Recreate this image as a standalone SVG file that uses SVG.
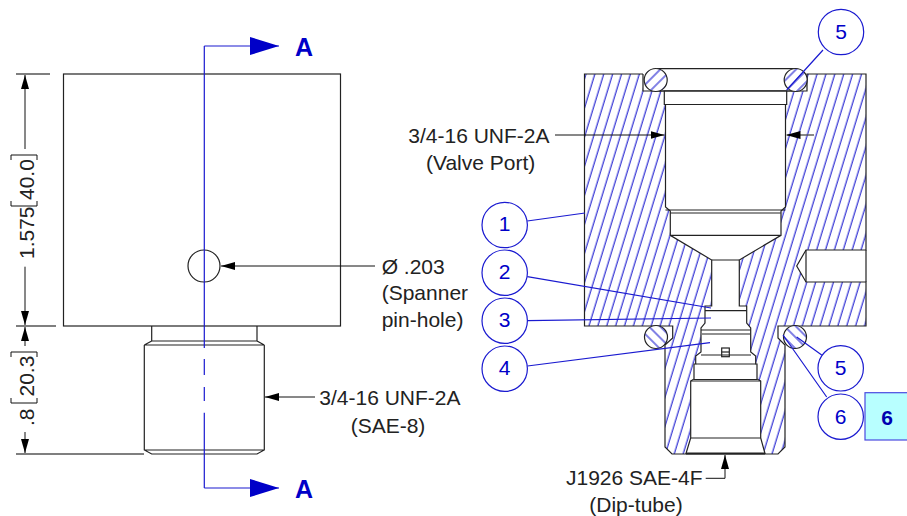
<svg xmlns="http://www.w3.org/2000/svg" width="907" height="516" viewBox="0 0 907 516">
<style>
.o{fill:none;stroke:#222;stroke-width:1.2}
.w{fill:#fff;stroke:#222;stroke-width:1.2}
.d{fill:none;stroke:#111;stroke-width:1}
.e{fill:none;stroke:#555;stroke-width:1.4}
.b{fill:none;stroke:#1a1ad0;stroke-width:1.2}
.bal{fill:#fff;stroke:#1a1ad0;stroke-width:1.2}
.t{font-family:"Liberation Sans",Arial,sans-serif;font-size:21px;fill:#222}
.n{font-family:"Liberation Sans",Arial,sans-serif;font-size:21px;fill:#0000c8;text-anchor:middle}
.a{font-family:"Liberation Sans",Arial,sans-serif;font-size:25px;font-weight:bold;fill:#0000c8}
</style>
<defs>
<pattern id="h" patternUnits="userSpaceOnUse" width="8.5" height="10" patternTransform="rotate(17)"><line x1="4" y1="0" x2="4" y2="10" stroke="#1a1ad0" stroke-width="1.1"/></pattern>
<pattern id="hr" patternUnits="userSpaceOnUse" width="8" height="8" patternTransform="rotate(45)"><rect width="8" height="8" fill="#fff"/><line x1="4" y1="0" x2="4" y2="8" stroke="#1a1ad0" stroke-width="1.1"/></pattern>
<pattern id="hl" patternUnits="userSpaceOnUse" width="8" height="8" patternTransform="rotate(-45)"><rect width="8" height="8" fill="#fff"/><line x1="4" y1="0" x2="4" y2="8" stroke="#1a1ad0" stroke-width="1.1"/></pattern>
<marker id="ar" markerUnits="userSpaceOnUse" markerWidth="14" markerHeight="8" refX="14" refY="4" orient="auto"><path d="M0 0L14 4L0 8Z" fill="#000"/></marker>
<marker id="ab" markerUnits="userSpaceOnUse" markerWidth="29" markerHeight="18" refX="29" refY="9" orient="auto"><path d="M0 0L29 9L0 18Z" fill="#0000c8"/></marker>
</defs>

<g id="side-view">
<rect class="o" x="63.5" y="74" width="277" height="252"/>
<path class="o" d="M151.7 326V341H257V326M144.3 345L151.7 341M257 341L264.3 345M144.3 345H264.3M144.3 345V450L151.7 454H257L264.3 450V345M144.3 450H264.3"/>
<circle class="o" cx="204" cy="266" r="16"/>
</g>

<g id="section-body">
<path d="M584.5 74H643V91H807V74H866V250H806L796.7 266L806 282H866V326H778V338L785 345V447L778 454H672L665 447V345L672.7 338V326H584.5Z" fill="url(#h)"/>
<path class="o" d="M643 74H584.5V326H672.7V338L665 345V447L672 454H778L785 447V345L778 338V326H866V282H806L796.7 266L806 250H866V74H807V91H643V74"/>
<line class="o" x1="866" y1="250" x2="866" y2="282"/>
<line class="o" x1="806" y1="250" x2="806" y2="282"/>
<path class="w" d="M664.3 91H786.7V104.5H785.5V207L781 211V235.3L739.3 260V306H746.7V323L750.7 328V352L755.7 356V364H757V379L760.7 381V438L765 453.5H686L690.7 438V381L694 379V364H695.7V356L701 352V328L705 323V306H711.7V260L670.3 235.3V211L665.5 207V104.5H664.3Z"/>
<path class="o" d="M664.3 104.5H786.7M665.5 210H785.5M670.3 213H780.7M670.3 235.3H780.7M711.7 260H739.3M705 310.7H746.7M701 330H750.7M702 334H750M701 355H751M695.7 364H755.7M694 379.5H757M690.7 381H760.7M690.7 438H760.7"/>
<line x1="686" y1="453.5" x2="765" y2="453.5" stroke="#222" stroke-width="2"/>
<rect class="o" x="721.7" y="348" width="7.6" height="8.7"/>
<line class="o" x1="721.7" y1="352" x2="729.3" y2="352"/>
<line class="o" x1="657" y1="68.7" x2="795" y2="68.7"/>
<line class="o" x1="657" y1="91" x2="795" y2="91"/>
<circle cx="655.7" cy="80" r="11.5" fill="url(#hr)" stroke="#222" stroke-width="1.2"/>
<circle cx="795.7" cy="80" r="11.5" fill="url(#hr)" stroke="#222" stroke-width="1.2"/>
<circle cx="656" cy="337" r="11.5" fill="url(#hl)" stroke="#222" stroke-width="1.2"/>
<circle cx="795" cy="337" r="11.5" fill="url(#hl)" stroke="#222" stroke-width="1.2"/>
</g>

<g id="connectors">
<path class="b" d="M204.3 488V412.7M204.3 401V387M204.3 375V359M204.3 348V46"/>
<path class="b" d="M204.3 46H279" marker-end="url(#ab)"/>
<path class="b" d="M204.3 488H279" marker-end="url(#ab)"/>
<path class="e" d="M16 74H50M16 326H56M16 454H144"/>
<line class="d" x1="25" y1="149" x2="25" y2="75" marker-end="url(#ar)"/>
<line class="d" x1="25" y1="266.7" x2="25" y2="325" marker-end="url(#ar)"/>
<line class="d" x1="25" y1="346" x2="25" y2="327" marker-end="url(#ar)"/>
<line class="d" x1="25" y1="432" x2="25" y2="453" marker-end="url(#ar)"/>
<path class="d" d="M11 160V155H37V160M11 201V206H37V201M11 357V352H37V357M11 398V403H37V398"/>
<line class="d" x1="375" y1="266" x2="221" y2="266" marker-end="url(#ar)"/>
<line class="d" x1="315" y1="397" x2="265" y2="397" marker-end="url(#ar)"/>
<line class="d" x1="555" y1="135" x2="664.5" y2="135" marker-end="url(#ar)"/>
<line class="e" x1="814" y1="135" x2="800" y2="135"/>
<line class="d" x1="800" y1="135" x2="786.5" y2="135" marker-end="url(#ar)"/>
<path class="d" d="M705.7 478.3H725V455" marker-end="url(#ar)"/>
<path class="b" d="M527.3 221L585 213M527.3 276.7L711 308M527.5 320.7L711 318M527.5 366L710 342.7M786.7 90L823 50M796.7 337L821.7 355M783 335L826.7 397"/>
</g>

<g id="labels">
<text class="t" transform="translate(34 259) rotate(-90)">1.575</text>
<text class="t" transform="translate(34 200) rotate(-90)">40.0</text>
<text class="t" transform="translate(34 396.5) rotate(-90)">20.3</text>
<text class="t" transform="translate(34 426) rotate(-90)">.8</text>
<text class="t" x="381.7" y="274">Ø .203</text>
<text class="t" x="381.7" y="300">(Spanner</text>
<text class="t" x="381.7" y="326.5">pin-hole)</text>
<text class="t" x="319.3" y="405">3/4-16 UNF-2A</text>
<text class="t" x="350.7" y="432.7">(SAE-8)</text>
<text class="t" x="408.3" y="142.7">3/4-16 UNF-2A</text>
<text class="t" x="426" y="170">(Valve Port)</text>
<text class="t" x="566" y="485">J1926 SAE-4F</text>
<text class="t" x="589.3" y="511.7">(Dip-tube)</text>
<text class="a" x="295" y="56">A</text>
<text class="a" x="295" y="497.5">A</text>
</g>

<g id="balloon-1"><circle class="bal" cx="504.7" cy="225" r="22.7"/><text class="n" x="504.7" y="231">1</text></g>
<g id="balloon-2"><circle class="bal" cx="504.7" cy="272.7" r="22.7"/><text class="n" x="504.7" y="279.3">2</text></g>
<g id="balloon-3"><circle class="bal" cx="504.7" cy="320.7" r="22.7"/><text class="n" x="504.7" y="327.3">3</text></g>
<g id="balloon-4"><circle class="bal" cx="504.7" cy="368.7" r="22.7"/><text class="n" x="504.7" y="374.5">4</text></g>
<g id="balloon-5a"><circle class="bal" cx="841" cy="32" r="22.7"/><text class="n" x="841" y="39">5</text></g>
<g id="balloon-5b"><circle class="bal" cx="840.7" cy="368.3" r="22.7"/><text class="n" x="840.7" y="375">5</text></g>
<g id="balloon-6"><circle class="bal" cx="840.7" cy="416.7" r="22.7"/><text class="n" x="840.7" y="423.5">6</text></g>
<g id="tag-6"><rect x="865" y="392.7" width="44" height="47.3" fill="#b8ffff" stroke="#4a4ae0" stroke-width="1.2"/><text x="887" y="425" font-family="'Liberation Sans',Arial,sans-serif" font-size="21" font-weight="bold" fill="#0000b0" text-anchor="middle">6</text></g>
</svg>
